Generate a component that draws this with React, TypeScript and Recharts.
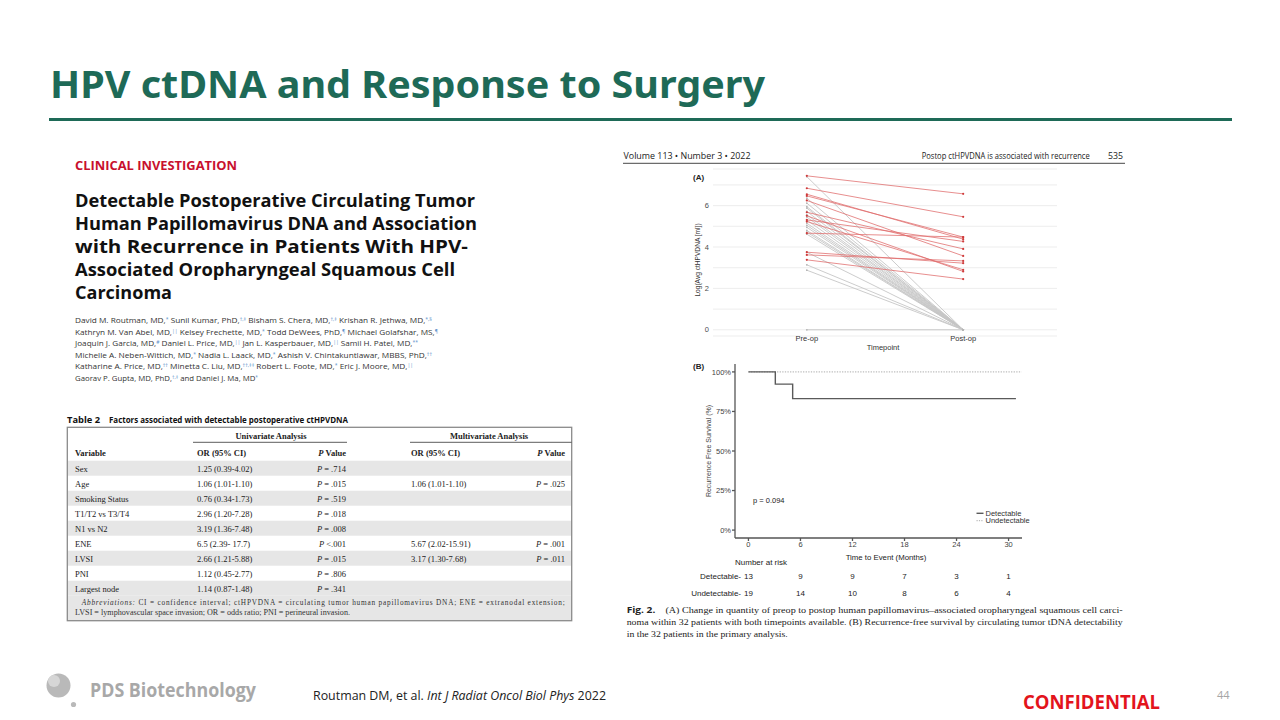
import React from 'react';
import { LineChart, Line, XAxis, YAxis, CartesianGrid, ScatterChart, Scatter } from 'recharts';

// ---------- Fig. 2A : log(avg ctHPVDNA) per patient, pre-op vs post-op ----------
const timepoints = ['Pre-op', 'Post-op'];
const detectablePre = [7.44, 6.84, 6.55, 6.47, 6.25, 5.68, 5.51, 5.31, 5.23, 4.67, 3.75, 3.62, 3.38];
const detectablePost = [6.57, 5.46, 4.38, 4.48, 3.57, 3.91, 2.82, 4.27, 2.9, 4.48, 3.22, 3.33, 2.45];
const undetectablePre = [7.4, 6.36, 6.12, 5.95, 5.88, 5.72, 5.56, 5.45, 5.3, 5.15, 5.05, 4.95, 4.8, 4.72, 4.62, 3.75, 3.14, 2.88, 0];
const undetectablePost = [0, 0, 0, 0, 0, 0, 0, 0, 0, 0, 0, 0, 0, 0, 0, 0, 0, 0, 0];
const yTicksA = [0, 1, 2, 3, 4, 5, 6, 7];

// ---------- Fig. 2B : Kaplan-Meier recurrence-free survival ----------
const kmDetectTimes = [0, 3.1, 5.1, 30.85];
const kmDetectSurv = [100, 92.3, 83.1, 83.1];
const kmUndetTimes = [0, 31.5];
const kmUndetSurv = [100, 100];
const xTicksB = [0, 6, 12, 18, 24, 30];
const yTicksB = [0, 25, 50, 75, 100];
const riskGroups = ['Detectable', 'Undetectable'];
const riskDetectable = [13, 9, 9, 7, 3, 1];
const riskUndetectable = [19, 14, 10, 8, 6, 4];

// ---------- Table 2 ----------
const tblVariables = ['Sex', 'Age', 'Smoking Status', 'T1/T2 vs T3/T4', 'N1 vs N2', 'ENE', 'LVSI', 'PNI', 'Largest node'];
const tblUniOR = ['1.25 (0.39-4.02)', '1.06 (1.01-1.10)', '0.76 (0.34-1.73)', '2.96 (1.20-7.28)', '3.19 (1.36-7.48)', '6.5 (2.39- 17.7)', '2.66 (1.21-5.88)', '1.12 (0.45-2.77)', '1.14 (0.87-1.48)'];
const tblUniP = [' = .714', ' = .015', ' = .519', ' = .018', ' = .008', ' <.001', ' = .015', ' = .806', ' = .341'];
const tblMultiOR = ['', '1.06 (1.01-1.10)', '', '', '', '5.67 (2.02-15.91)', '3.17 (1.30-7.68)', '', ''];
const tblMultiP = ['', ' = .025', '', '', '', ' = .001', ' = .011', '', ''];

// ---------- Article text ----------
const articleTitle = [
  'Detectable Postoperative Circulating Tumor',
  'Human Papillomavirus DNA and Association',
  'with Recurrence in Patients With HPV-',
  'Associated Oropharyngeal Squamous Cell',
  'Carcinoma',
];
const articleTitleWidths = [400, 402, 393, 380, 97];
const authorLines = [
  'David M. Routman, MD,{*} Sunil Kumar, PhD,{†,‡} Bisham S. Chera, MD,{†,‡} Krishan R. Jethwa, MD,{*,§}',
  'Kathryn M. Van Abel, MD,{||} Kelsey Frechette, MD,{*} Todd DeWees, PhD,{¶} Michael Golafshar, MS,{¶}',
  'Joaquin J. Garcia, MD,{#} Daniel L. Price, MD,{||} Jan L. Kasperbauer, MD,{||} Samil H. Patel, MD,{**}',
  'Michelle A. Neben-Wittich, MD,{*} Nadia L. Laack, MD,{*} Ashish V. Chintakuntlawar, MBBS, PhD,{††}',
  'Katharine A. Price, MD,{††} Minetta C. Liu, MD,{††,‡‡} Robert L. Foote, MD,{*} Eric J. Moore, MD,{||}',
  'Gaorav P. Gupta, MD, PhD,{†,‡} and Daniel J. Ma, MD{*}',
];
const authorWidths = [357, 363, 343, 357, 338, 183];
const captionLines = [
  'noma within 32 patients with both timepoints available. (B) Recurrence-free survival by circulating tumor tDNA detectability',
  'in the 32 patients in the primary analysis.',
];

const SANS = "'Open Sans', 'Noto Sans', sans-serif";
const SERIF = "'Liberation Serif', 'DejaVu Serif', serif";
const FIG = "'Liberation Sans', 'DejaVu Sans', sans-serif";
const GREEN = '#1e6a57';

const dataA = timepoints.map((tp, i) => {
  const row: any = { x: i + 1, tp };
  detectablePre.forEach((v, k) => { row['d' + k] = i === 0 ? v : detectablePost[k]; });
  undetectablePre.forEach((v, k) => { row['u' + k] = i === 0 ? v : undetectablePost[k]; });
  return row;
});
const kmDetect = kmDetectTimes.map((t, i) => ({ t, s: kmDetectSurv[i] }));
const kmUndet = kmUndetTimes.map((t, i) => ({ t, s: kmUndetSurv[i] }));
const riskDetData = riskDetectable.map((n, i) => ({ t: xTicksB[i], row: 1, n }));
const riskUndData = riskUndetectable.map((n, i) => ({ t: xTicksB[i], row: 0, n }));

function Authors({ line, y, w }: { line: string; y: number; w: number }) {
  const parts = line.split(/(\{[^}]*\})/).filter((p) => p.length > 0);
  return (
    <text x={75} y={y} fontSize={7.8} fill="#333" fontFamily={SANS} textLength={w} lengthAdjust="spacingAndGlyphs">
      {parts.map((p, i) =>
        p.startsWith('{') ? (
          <tspan key={i} fontSize={4.8} fill="#5b8fc9" baselineShift={2}>{p.slice(1, -1)}</tspan>
        ) : (
          <tspan key={i}>{p}</tspan>
        )
      )}
    </text>
  );
}

function TickA(props: any) {
  const { x, y, payload } = props;
  return (
    <text x={x} y={y + 5} textAnchor="middle" fontSize={7.5} fill="#333" fontFamily={FIG}>
      {timepoints[payload.value - 1]}
    </text>
  );
}

function RiskTick(props: any) {
  const { x, y, payload } = props;
  return (
    <text x={x + 6} y={y + 3} textAnchor="end" fontSize={8} fill="#222" fontFamily={FIG}>
      {riskGroups[payload.value === 1 ? 0 : 1] + '-'}
    </text>
  );
}

function RiskNum(props: any) {
  const { cx, cy, payload } = props;
  return (
    <text x={cx} y={cy + 3} textAnchor="middle" fontSize={8} fill="#222" fontFamily={FIG}>
      {payload.n}
    </text>
  );
}

function Slide() {
  const rowTop = 460.7;
  const rowH = 15;
  return (
    <svg width={1280} height={720} style={{ position: 'absolute', left: 0, top: 0 }}>
      <rect x={0} y={0} width={1280} height={720} fill="#fff" />
      {/* Title */}
      <text x={50} y={98} fontSize={37} fontWeight={700} fill={GREEN} fontFamily="'Noto Sans', sans-serif" textLength={715} lengthAdjust="spacingAndGlyphs">
        HPV ctDNA and Response to Surgery
      </text>
      <rect x={49} y={118} width={1183} height={3} fill={GREEN} />

      {/* Article header */}
      <text x={75} y={170} fontSize={12.5} fontWeight={700} fill="#c8102e" fontFamily={SANS} textLength={162} lengthAdjust="spacingAndGlyphs">
        CLINICAL INVESTIGATION
      </text>
      {articleTitle.map((t, i) => (
        <text key={i} x={75} y={206.5 + i * 23} fontSize={18.5} fontWeight={700} fill="#111" fontFamily={SANS} textLength={articleTitleWidths[i]} lengthAdjust="spacingAndGlyphs">
          {t}
        </text>
      ))}
      {authorLines.map((l, i) => (
        <Authors key={i} line={l} y={323 + i * 11.6} w={authorWidths[i]} />
      ))}

      {/* Table 2 */}
      <text x={67} y={422.5} fontSize={8.3} fontWeight={700} fill="#111" fontFamily={SANS} textLength={33} lengthAdjust="spacingAndGlyphs">Table 2</text>
      <text x={109} y={422.5} fontSize={8.3} fontWeight={700} fill="#111" fontFamily={SANS} textLength={239} lengthAdjust="spacingAndGlyphs">
        Factors associated with detectable postoperative ctHPVDNA
      </text>
      {tblVariables.map((v, i) =>
        i % 2 === 0 ? <rect key={'bg' + i} x={67.5} y={rowTop + i * rowH} width={504} height={rowH} fill="#e6e6e6" /> : null
      )}
      <rect x={67.5} y={rowTop + 9 * rowH} width={504} height={620.7 - (rowTop + 9 * rowH)} fill="#e6e6e6" />
      <rect x={67.3} y={427.3} width={504.4} height={193.4} fill="none" stroke="#8a8a8a" strokeWidth={1.3} />
      <text x={271} y={439} textAnchor="middle" fontSize={8.5} fontWeight={700} fill="#222" fontFamily={SERIF}>Univariate Analysis</text>
      <line x1={193} x2={347} y1={442.3} y2={442.3} stroke="#333" strokeWidth={0.8} />
      <text x={489} y={439} textAnchor="middle" fontSize={8.5} fontWeight={700} fill="#222" fontFamily={SERIF}>Multivariate Analysis</text>
      <line x1={410} x2={571.5} y1={442.3} y2={442.3} stroke="#333" strokeWidth={0.8} />
      <g fontSize={8.5} fontWeight={700} fill="#222" fontFamily={SERIF}>
        <text x={75} y={456}>Variable</text>
        <text x={197} y={456}>OR (95% CI)</text>
        <text x={346} y={456} textAnchor="end"><tspan fontStyle="italic">P</tspan> Value</text>
        <text x={411} y={456}>OR (95% CI)</text>
        <text x={565} y={456} textAnchor="end"><tspan fontStyle="italic">P</tspan> Value</text>
      </g>
      <g fontSize={8.5} fill="#222" fontFamily={SERIF}>
        {tblVariables.map((v, i) => {
          const y = rowTop + i * rowH + 10.8;
          return (
            <g key={'r' + i}>
              <text x={75} y={y}>{v}</text>
              <text x={197} y={y}>{tblUniOR[i]}</text>
              <text x={346} y={y} textAnchor="end"><tspan fontStyle="italic">P</tspan>{tblUniP[i]}</text>
              {tblMultiOR[i] ? <text x={411} y={y}>{tblMultiOR[i]}</text> : null}
              {tblMultiP[i] ? <text x={565} y={y} textAnchor="end"><tspan fontStyle="italic">P</tspan>{tblMultiP[i]}</text> : null}
            </g>
          );
        })}
      </g>
      <text x={81.7} y={605} fontSize={7.3} fill="#333" fontFamily={SERIF} textLength={483} lengthAdjust="spacing">
        <tspan fontStyle="italic">Abbreviations:</tspan> CI = confidence interval; ctHPVDNA = circulating tumor human papillomavirus DNA; ENE = extranodal extension;
      </text>
      <text x={75} y={614.8} fontSize={7.3} fill="#333" fontFamily={SERIF} textLength={275} lengthAdjust="spacingAndGlyphs">
        LVSI = lymphovascular space invasion; OR = odds ratio; PNI = perineural invasion.
      </text>

      {/* Right page header */}
      <g fontSize={8.5} fill="#222" fontFamily={SANS}>
        <text x={623.5} y={159} textLength={127} lengthAdjust="spacingAndGlyphs">Volume 113 • Number 3 • 2022</text>
        <text x={921.7} y={159} textLength={168} lengthAdjust="spacingAndGlyphs">Postop ctHPVDNA is associated with recurrence</text>
        <text x={1108} y={159} textLength={15} lengthAdjust="spacingAndGlyphs">535</text>
      </g>
      <line x1={623} x2={1125} y1={163.3} y2={163.3} stroke="#333" strokeWidth={0.9} />

      {/* Fig 2A annotations */}
      <text x={693} y={180} fontSize={8} fontWeight={700} fill="#222" fontFamily={FIG}>(A)</text>
      <text x={699.5} y={260} fontSize={6.6} fill="#333" fontFamily={FIG} textAnchor="middle" transform="rotate(-90 699.5 260)">
        Log(Avg ctHPVDNA [ml])
      </text>
      <text x={883} y={349.5} fontSize={7.5} fill="#333" fontFamily={FIG} textAnchor="middle">Timepoint</text>

      {/* Fig 2B annotations */}
      <text x={693} y={369} fontSize={8} fontWeight={700} fill="#222" fontFamily={FIG}>(B)</text>
      <text x={711} y={451} fontSize={7} fill="#444" fontFamily={FIG} textAnchor="middle" transform="rotate(-90 711 451)">
        Recurrence Free Survival (%)
      </text>
      <text x={753} y={502.5} fontSize={7.5} fill="#222" fontFamily={FIG}>p = 0.094</text>
      <line x1={976.5} x2={983.5} y1={513.3} y2={513.3} stroke="#5a5a5a" strokeWidth={1.4} />
      <text x={985.5} y={516} fontSize={7.5} fill="#333" fontFamily={FIG}>Detectable</text>
      <line x1={976.5} x2={983.5} y1={520.7} y2={520.7} stroke="#aaa" strokeWidth={1} strokeDasharray="1.2 1.2" />
      <text x={985.5} y={523.4} fontSize={7.5} fill="#333" fontFamily={FIG}>Undetectable</text>
      <text x={886} y={560} fontSize={7.8} fill="#222" fontFamily={FIG} textAnchor="middle">Time to Event (Months)</text>
      <text x={735} y={564.5} fontSize={8} fill="#222" fontFamily={FIG}>Number at risk</text>

      {/* Caption */}
      <text x={626.7} y={613} fontSize={8.5} fill="#222" fontFamily={SERIF} textLength={496} lengthAdjust="spacingAndGlyphs">
        <tspan fontWeight={700} fontFamily={SANS}>Fig. 2.</tspan>
        <tspan>{'\u00a0\u00a0\u00a0 (A) Change in quantity of preop to postop human papillomavirus\u2013associated oropharyngeal squamous cell carci-'}</tspan>
      </text>
      <text x={626.7} y={625} fontSize={8.5} fill="#222" fontFamily={SERIF} textLength={496} lengthAdjust="spacingAndGlyphs">{captionLines[0]}</text>
      <text x={626.7} y={636.5} fontSize={8.5} fill="#222" fontFamily={SERIF} textLength={161} lengthAdjust="spacingAndGlyphs">{captionLines[1]}</text>

      {/* Footer */}
      <circle cx={58.5} cy={685.5} r={12} fill="#b9b9b9" />
      <circle cx={54} cy={681} r={6} fill="#d6d6d6" />
      <circle cx={73.5} cy={704.5} r={2.6} fill="#b9b9b9" />
      <text x={90} y={697} fontSize={19} fontWeight={700} fill="#a8a8a8" fontFamily={SANS} textLength={166} lengthAdjust="spacingAndGlyphs">PDS Biotechnology</text>
      <text x={313} y={699.5} fontSize={12} fill="#222" fontFamily={SANS} textLength={293} lengthAdjust="spacingAndGlyphs">
        Routman DM, et al. <tspan fontStyle="italic">Int J Radiat Oncol Biol Phys</tspan> 2022
      </text>
      <text x={1023} y={709} fontSize={19} fontWeight={700} fill="#e3141c" fontFamily={SANS} textLength={137} lengthAdjust="spacingAndGlyphs">CONFIDENTIAL</text>
      <text x={1217} y={699} fontSize={11} fill="#a6a6a6" fontFamily={SANS}>44</text>
    </svg>
  );
}

function ChartA() {
  return (
    <div style={{ position: 'absolute', left: 620, top: 160 }}>
      <LineChart width={460} height={195} data={dataA} margin={{ top: 9, right: 23, bottom: 0, left: 0 }}>
        <CartesianGrid vertical={false} stroke="#e9e9e9" strokeWidth={0.8} />
        <XAxis dataKey="x" type="number" domain={[0.4, 2.6]} ticks={[1, 2]} interval={0} allowDataOverflow axisLine={false} tickLine={false} tickSize={0} tickMargin={0} height={19} tick={TickA} />
        <YAxis type="number" domain={[-0.3, 7.77]} ticks={yTicksA} interval={0} allowDataOverflow axisLine={false} tickLine={false} tickSize={3} tickMargin={1} width={93}
          tick={{ fontSize: 7.5, fill: '#4d4d4d', fontFamily: FIG }} tickFormatter={(v: number) => (v % 2 === 0 ? String(v) : '')} />
        {undetectablePre.map((_, k) => (
          <Line key={'u' + k} dataKey={'u' + k} type="linear" stroke="#c6c6c6" strokeWidth={0.9} isAnimationActive={false}
            dot={{ r: 0.9, fill: '#b5b5b5', stroke: 'none' }} activeDot={false} />
        ))}
        {detectablePre.map((_, k) => (
          <Line key={'d' + k} dataKey={'d' + k} type="linear" stroke="#e06a6a" strokeOpacity={0.85} strokeWidth={0.9} isAnimationActive={false}
            dot={{ r: 1.1, fill: '#cf3b3b', stroke: 'none' }} activeDot={false} />
        ))}
      </LineChart>
    </div>
  );
}

function ChartB() {
  return (
    <div style={{ position: 'absolute', left: 700, top: 355 }}>
      <LineChart width={340} height={197} margin={{ top: 9, right: 18, bottom: 0, left: 0 }}>
        <XAxis dataKey="t" type="number" domain={[-1.55, 31.55]} ticks={xTicksB} interval={0} allowDataOverflow height={14} tickSize={3} tickMargin={1}
          stroke="#555" strokeWidth={1.3} tick={{ fontSize: 7.5, fill: '#444', fontFamily: FIG }} />
        <YAxis type="number" domain={[-5, 105]} ticks={yTicksB} interval={0} allowDataOverflow width={35} tickSize={3} tickMargin={1}
          stroke="#555" strokeWidth={1.3} tick={{ fontSize: 7.5, fill: '#444', fontFamily: FIG }} tickFormatter={(v: number) => `${v}%`} />
        <Line data={kmUndet} dataKey="s" type="linear" stroke="#ababab" strokeWidth={1} strokeDasharray="1.3 1.3" dot={false} activeDot={false} isAnimationActive={false} />
        <Line data={kmDetect} dataKey="s" type="stepAfter" stroke="#5a5a5a" strokeWidth={1.4} dot={false} activeDot={false} isAnimationActive={false} />
      </LineChart>
    </div>
  );
}

function RiskTable() {
  return (
    <div style={{ position: 'absolute', left: 670, top: 560 }}>
      <ScatterChart width={370} height={41} margin={{ top: 8, right: 18, bottom: 0, left: 0 }}>
        <XAxis dataKey="t" type="number" domain={[-1.55, 31.55]} allowDataOverflow hide />
        <YAxis dataKey="row" type="number" domain={[-0.5, 1.5]} ticks={[0, 1]} interval={0} width={65} axisLine={false} tickLine={false} tickSize={0} tickMargin={0} tick={RiskTick} />
        <Scatter data={riskDetData} shape={RiskNum} isAnimationActive={false} />
        <Scatter data={riskUndData} shape={RiskNum} isAnimationActive={false} />
      </ScatterChart>
    </div>
  );
}

export default function App() {
  return (
    <div style={{ position: 'absolute', left: 0, top: 0, width: 1280, height: 720, background: '#fff', overflow: 'hidden' }}>
      <Slide />
      <ChartA />
      <ChartB />
      <RiskTable />
    </div>
  );
}
